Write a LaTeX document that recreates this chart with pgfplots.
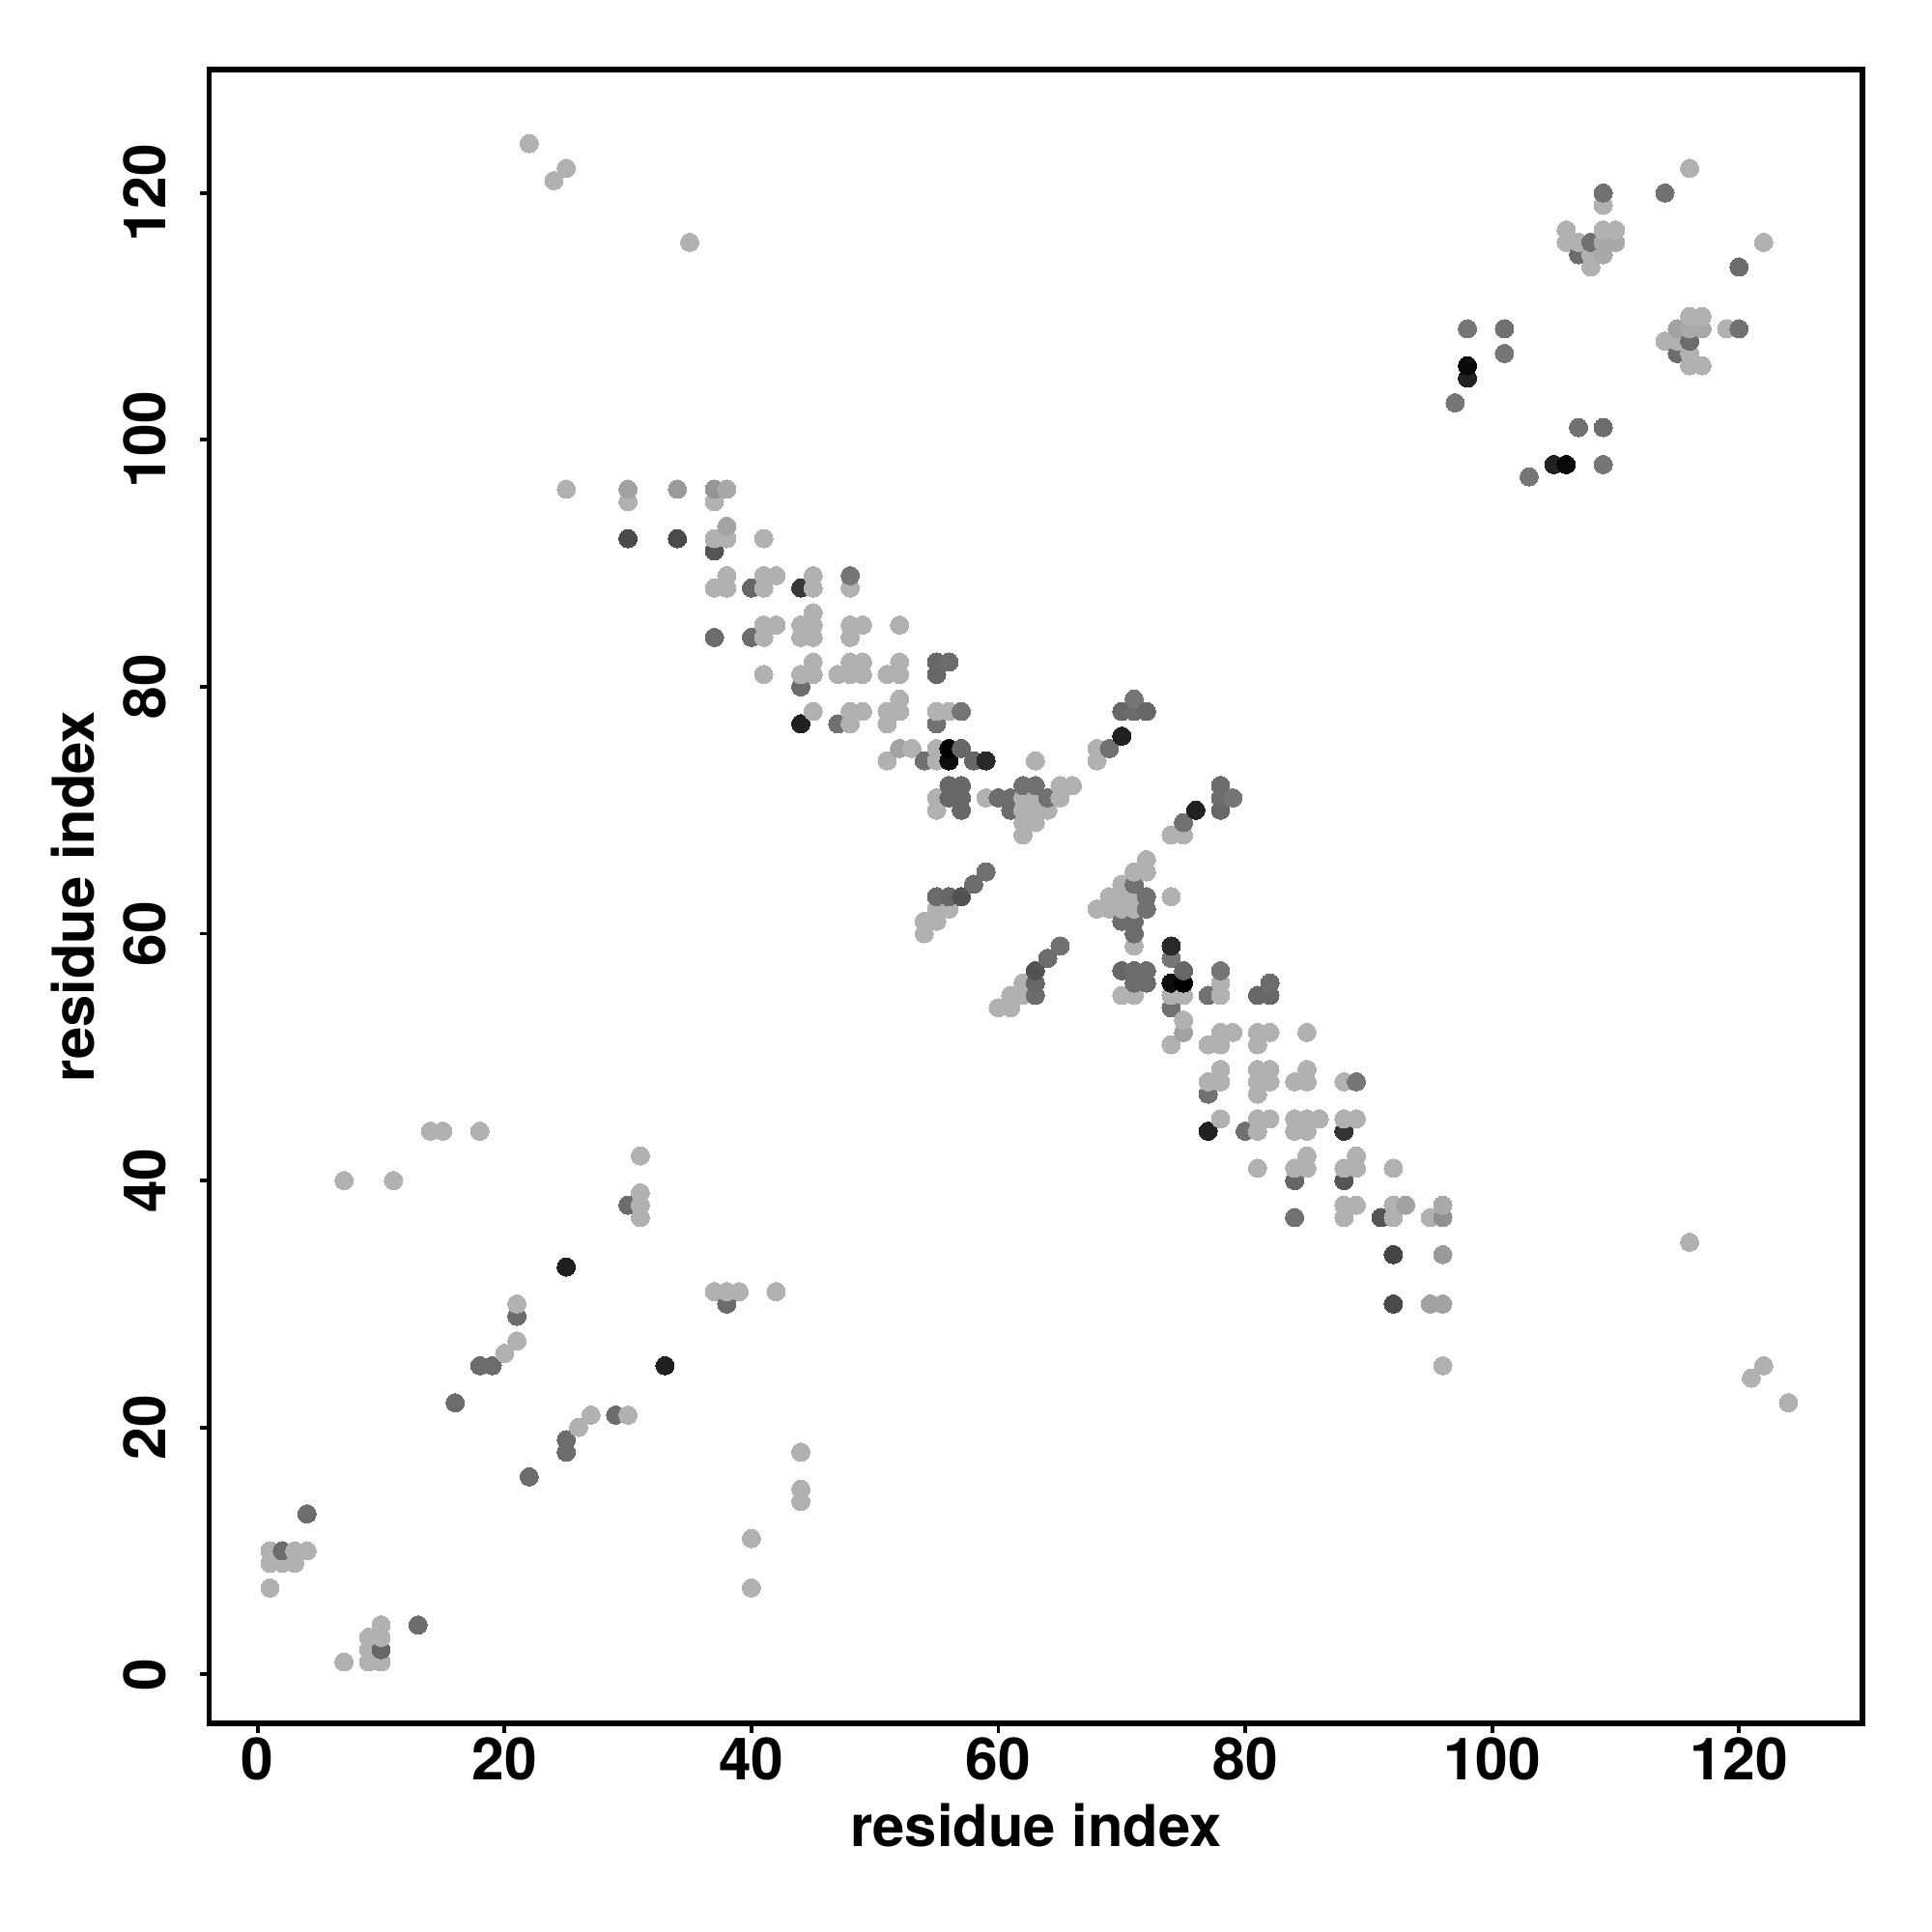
\documentclass[border=0pt]{standalone}
\usepackage{pgfplots}
\pgfplotsset{compat=1.18}
\usepackage{pgfplotstable}
\usepackage{fontspec}
\setmainfont{TeX Gyre Heros}

% residue contacts, sorted by x then y so the overlaps stack as in the original
% third column is the grey level of the dot
\pgfplotstableread{
x y g
1 7 .69
1 9 .69
1 10 .69
2 9 .69
2 10 .42
3 9 .69
3 10 .69
4 10 .69
4 13 .42
7 1 .69
7 40 .69
9 1 .69
9 2 .69
9 3 .69
10 1 .69
10 2 .40
10 3 .69
10 4 .69
11 40 .69
13 4 .42
14 44 .69
15 44 .69
16 22 .42
18 25 .42
18 44 .69
19 25 .42
20 26 .69
21 27 .69
21 29 .42
21 30 .69
22 16 .42
22 124 .69
24 121 .69
25 18 .42
25 19 .42
25 33 .12
25 96 .69
25 122 .69
26 20 .69
27 21 .69
29 21 .42
30 21 .69
30 38 .42
30 92 .29
30 95 .69
30 96 .63
31 37 .69
31 38 .69
31 39 .69
31 42 .69
33 25 .12
34 92 .29
34 96 .60
35 116 .69
37 31 .69
37 84 .42
37 88 .69
37 91 .33
37 92 .69
37 95 .69
37 96 .58
38 30 .42
38 31 .69
38 88 .69
38 89 .69
38 92 .69
38 93 .64
38 96 .66
39 31 .69
40 7 .69
40 11 .69
40 84 .42
40 88 .40
41 81 .69
41 84 .69
41 85 .69
41 88 .69
41 89 .69
41 92 .69
42 31 .69
42 85 .69
42 89 .69
44 14 .69
44 15 .69
44 18 .69
44 77 .13
44 80 .42
44 81 .69
44 84 .69
44 85 .69
44 88 .22
45 78 .69
45 81 .69
45 82 .69
45 84 .69
45 85 .69
45 86 .69
45 88 .69
45 89 .69
47 77 .44
47 81 .69
48 77 .69
48 78 .69
48 81 .69
48 82 .69
48 84 .69
48 85 .69
48 88 .69
48 89 .46
49 78 .69
49 81 .69
49 82 .69
49 85 .69
51 74 .69
51 77 .69
51 78 .69
51 81 .69
52 75 .63
52 78 .69
52 79 .69
52 81 .69
52 82 .69
52 85 .69
53 75 .69
54 60 .69
54 61 .69
54 74 .44
55 61 .69
55 62 .69
55 63 .42
55 70 .69
55 71 .69
55 74 .69
55 75 .69
55 77 .44
55 78 .69
55 81 .40
55 82 .40
56 62 .69
56 63 .40
56 71 .40
56 72 .40
56 74 .05
56 75 .00
56 78 .69
56 82 .42
57 63 .32
57 70 .40
57 71 .40
57 72 .40
57 75 .40
57 78 .46
58 64 .42
58 74 .40
59 65 .44
59 71 .69
59 74 .16
60 54 .69
60 71 .42
61 54 .69
61 55 .69
61 70 .42
61 71 .42
62 55 .69
62 56 .69
62 68 .69
62 69 .69
62 70 .69
62 71 .69
62 72 .44
63 55 .42
63 56 .40
63 57 .32
63 69 .69
63 70 .69
63 71 .69
63 72 .44
63 74 .69
64 58 .42
64 70 .69
64 71 .44
65 59 .44
65 71 .69
65 72 .69
66 72 .69
68 62 .69
68 74 .69
68 75 .69
69 62 .69
69 63 .69
69 75 .44
70 55 .69
70 57 .40
70 61 .42
70 62 .69
70 63 .69
70 64 .69
70 76 .13
70 78 .40
71 55 .69
71 56 .42
71 57 .42
71 59 .69
71 60 .42
71 61 .42
71 62 .69
71 63 .69
71 64 .44
71 65 .69
71 78 .42
71 79 .46
72 56 .42
72 57 .42
72 62 .44
72 63 .44
72 65 .69
72 66 .69
72 78 .40
74 51 .69
74 54 .44
74 55 .69
74 56 .05
74 58 .46
74 59 .16
74 63 .69
74 68 .69
75 52 .63
75 53 .69
75 55 .69
75 56 .00
75 57 .40
75 68 .69
75 69 .44
76 70 .13
77 44 .13
77 47 .44
77 48 .69
77 51 .69
77 55 .44
78 45 .69
78 48 .69
78 49 .69
78 51 .69
78 52 .69
78 55 .69
78 56 .69
78 57 .46
78 70 .40
78 71 .42
78 72 .42
79 52 .69
79 71 .46
80 44 .44
81 41 .69
81 44 .69
81 45 .69
81 47 .69
81 48 .69
81 49 .69
81 51 .69
81 52 .69
81 55 .40
82 45 .69
82 48 .69
82 49 .69
82 52 .69
82 55 .40
82 56 .42
84 37 .44
84 40 .40
84 41 .69
84 44 .69
84 45 .69
84 48 .69
85 41 .69
85 42 .69
85 44 .69
85 45 .69
85 48 .69
85 49 .69
85 52 .69
86 45 .69
88 37 .69
88 38 .69
88 40 .33
88 41 .69
88 44 .20
88 45 .69
88 48 .69
89 38 .69
89 41 .69
89 42 .69
89 45 .69
89 48 .46
91 37 .33
92 30 .29
92 34 .27
92 37 .69
92 38 .69
92 41 .69
93 38 .63
95 30 .63
95 37 .69
96 25 .69
96 30 .63
96 34 .60
96 37 .56
96 38 .66
97 103 .46
98 105 .13
98 106 .04
98 109 .46
101 107 .46
101 109 .44
103 97 .46
105 98 .13
106 98 .03
106 116 .69
106 117 .69
107 101 .44
107 115 .42
107 116 .69
108 114 .69
108 115 .69
108 116 .44
109 98 .46
109 101 .42
109 115 .66
109 116 .66
109 117 .69
109 119 .69
109 120 .44
110 116 .66
110 117 .69
114 108 .69
114 120 .44
115 107 .42
115 108 .69
115 109 .63
116 35 .69
116 106 .69
116 107 .69
116 108 .42
116 109 .66
116 110 .69
116 122 .69
117 106 .69
117 109 .66
117 110 .69
119 109 .69
120 109 .44
120 114 .42
121 24 .69
122 25 .69
122 116 .69
124 22 .69
}\contacts

\begin{document}
\begin{tikzpicture}
\useasboundingbox (-2.165,-2.16) rectangle (17.835,17.84);
\begin{axis}[
    at={(0cm,0cm)},
    anchor=south west,
    width=17.115cm,
    height=17.12cm,
    scale only axis,
    xmin=-3.93, xmax=130,
    ymin=-3.97, ymax=130,
    xtick={0,20,...,120},
    ytick={0,20,...,120},
    axis line style={line width=1.7pt},
    every tick/.style={black, line width=1.1pt},
    tick align=outside,
    tick pos=left,
    major tick length=0.095cm,
    /pgf/number format/assume math mode=true,
    ticklabel style={font=\fontsize{17.2}{20}\selectfont\bfseries},
    xticklabel style={yshift=0.07cm},
    yticklabel style={rotate=90, anchor=south, yshift=0.23cm},
    xlabel={residue index},
    ylabel={residue index},
    label style={font=\fontsize{17}{20}\selectfont\bfseries},
    ylabel style={yshift=0.05cm},
    colormap={greys}{gray(0cm)=(0); gray(1cm)=(1)},
    point meta min=0, point meta max=1,
    clip=false
]
\addplot[scatter, only marks, mark=*, mark size=2.7pt, point meta=explicit,
    scatter/use mapped color={draw=mapped color, fill=mapped color},
    mark options={line width=0pt}]
    table[x=x, y=y, meta=g] {\contacts};
\end{axis}
\end{tikzpicture}
\end{document}
